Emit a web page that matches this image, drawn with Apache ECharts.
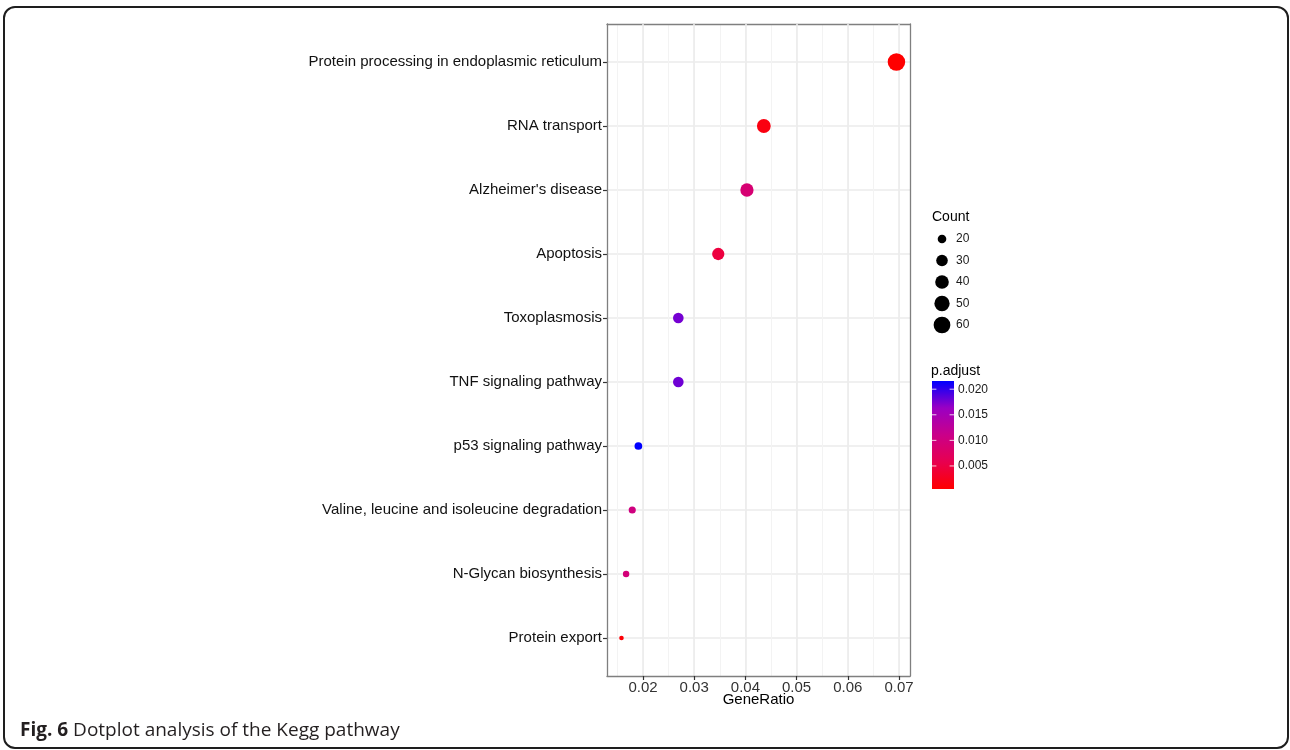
<!DOCTYPE html>
<html>
<head>
<meta charset="utf-8">
<script src="https://cdn.jsdelivr.net/npm/echarts@6/dist/echarts.min.js"></script>
<style>
  html, body { margin: 0; padding: 0; background: #ffffff; }
  #chart { width: 1290px; height: 750px; }
</style>
</head>
<body>
<div id="chart"></div>
<script>
// ---- data (top row first) ----
const pathways = [
  "Protein processing in endoplasmic reticulum",
  "RNA transport",
  "Alzheimer's disease",
  "Apoptosis",
  "Toxoplasmosis",
  "TNF signaling pathway",
  "p53 signaling pathway",
  "Valine, leucine and isoleucine degradation",
  "N-Glycan biosynthesis",
  "Protein export"
];
const geneRatio = [0.0695, 0.0436, 0.0403, 0.0347, 0.0269, 0.0269, 0.0191, 0.0179, 0.0167, 0.0158];
const counts    = [66, 41, 38, 33, 26, 26, 18, 17, 16, 15];
const pAdjust   = [0.0005, 0.0016, 0.0090, 0.0047, 0.0176, 0.0178, 0.0216, 0.0101, 0.0095, 0.0009];

const xTicks      = [0.02, 0.03, 0.04, 0.05, 0.06, 0.07];
const countBreaks = [20, 30, 40, 50, 60];
const padjBreaks  = [0.005, 0.010, 0.015, 0.020];
const colorStops  = ['#ff0000', '#e8004f', '#ca0089', '#9a00c3', '#0000ff'];

// ---- scales ----
const X_MIN = 0.01297, X_MAX = 0.07215;
const cMin = Math.min(...counts), cMax = Math.max(...counts);
const D_MIN = 4.6, D_MAX = 17.5;
function sizeOf(c) {
  const t = Math.max(0, (c - cMin) / (cMax - cMin));
  return D_MIN + (D_MAX - D_MIN) * Math.sqrt(t);
}
const pMin = Math.min(...pAdjust), pMax = Math.max(...pAdjust);

const seriesData = pathways.map((p, i) => [geneRatio[i], p, counts[i], pAdjust[i]]);

// ---- legend geometry ----
const FONT = '"Liberation Sans", Arial, Helvetica, sans-serif';
const legX = 942, legY0 = 239, legStep = 21.5;
const barX = 932, barTop = 381, barH = 108, barW = 22;

const graphics = [];
// outer frame
graphics.push({
  type: 'rect', silent: true,
  shape: { x: 4, y: 7, width: 1284, height: 741, r: 11 },
  style: { fill: 'none', stroke: '#1e1e1e', lineWidth: 2 }
});
// caption
graphics.push({
  type: 'text', silent: true,
  style: {
    x: 20, y: 731, verticalAlign: 'middle',
    text: '{b|Fig. 6} Dotplot analysis of the Kegg pathway',
    font: '19px "Open Sans", sans-serif', fill: '#231f20',
    rich: { b: { fontWeight: 'bold', fontSize: 19, fontFamily: '"Open Sans", sans-serif', fill: '#231f20' } }
  }
});
// Count legend
graphics.push({
  type: 'text', silent: true,
  style: { x: 932, y: 217, verticalAlign: 'middle', text: 'Count', font: '14px ' + FONT, fill: '#000' }
});
countBreaks.forEach((c, i) => {
  const y = legY0 + i * legStep;
  graphics.push({ type: 'circle', silent: true, shape: { cx: legX, cy: y, r: sizeOf(c) / 2 }, style: { fill: '#000' } });
  graphics.push({ type: 'text', silent: true, style: { x: 956, y: y, verticalAlign: 'middle', text: String(c), font: '12px ' + FONT, fill: '#1a1a1a' } });
});
// p.adjust colorbar
graphics.push({
  type: 'text', silent: true,
  style: { x: 931, y: 371, verticalAlign: 'middle', text: 'p.adjust', font: '14px ' + FONT, fill: '#000' }
});
graphics.push({
  type: 'rect', silent: true,
  shape: { x: barX, y: barTop, width: barW, height: barH },
  style: {
    fill: {
      type: 'linear', x: 0, y: 1, x2: 0, y2: 0,
      colorStops: colorStops.map((c, i) => ({ offset: i / (colorStops.length - 1), color: c }))
    }
  }
});
padjBreaks.forEach(v => {
  const y = barTop + barH - (v - pMin) / (pMax - pMin) * barH;
  graphics.push({ type: 'line', silent: true, shape: { x1: barX, y1: y, x2: barX + 4.4, y2: y }, style: { stroke: '#ffffff', lineWidth: 1, opacity: 0.8 } });
  graphics.push({ type: 'line', silent: true, shape: { x1: barX + barW - 4.4, y1: y, x2: barX + barW, y2: y }, style: { stroke: '#ffffff', lineWidth: 1, opacity: 0.8 } });
  graphics.push({ type: 'text', silent: true, style: { x: 958, y: y, verticalAlign: 'middle', text: v.toFixed(3), font: '12px ' + FONT, fill: '#1a1a1a' } });
});

const BORDER = '#7f7f7f';
const option = {
  backgroundColor: '#ffffff',
  animation: false,
  grid: [
    { left: 607, top: 24, width: 303, height: 652, containLabel: false },
    { left: 607, top: 62, width: 303, height: 576, containLabel: false }
  ],
  xAxis: [
    {
      gridIndex: 0, type: 'value', min: X_MIN, max: X_MAX, splitNumber: 6, position: 'bottom', z: 2,
      axisLine: { show: true, onZero: false, lineStyle: { color: BORDER, width: 1.3 } },
      axisTick: { show: true, length: 4, customValues: xTicks, lineStyle: { color: '#333', width: 1.2 } },
      axisLabel: { show: true, customValues: xTicks, margin: 4,
        fontSize: 15, fontFamily: FONT, color: '#333', formatter: v => String(+(+v).toFixed(2)) },
      splitLine: { show: true, lineStyle: { color: '#ebebeb', width: 1.6 } },
      name: 'GeneRatio', nameLocation: 'middle', nameGap: 16, nameMoveOverlap: false,
      nameTextStyle: { fontSize: 15, fontFamily: FONT, color: '#000' }
    },
    {
      gridIndex: 0, type: 'value', min: X_MIN, max: X_MAX, splitNumber: 12, position: 'top', z: 1,
      axisLine: { show: true, onZero: false, lineStyle: { color: BORDER, width: 1.3 } },
      axisTick: { show: false }, axisLabel: { show: false },
      splitLine: { show: true, lineStyle: { color: '#f3f3f3', width: 1 } }
    },
    {
      gridIndex: 1, type: 'value', min: X_MIN, max: X_MAX, show: false
    }
  ],
  yAxis: [
    {
      gridIndex: 0, type: 'value', min: 0, max: 1, position: 'left', z: 3,
      axisLine: { show: true, onZero: false, lineStyle: { color: BORDER, width: 1.3 } },
      axisTick: { show: false }, axisLabel: { show: false }, splitLine: { show: false }
    },
    {
      gridIndex: 0, type: 'value', min: 0, max: 1, position: 'right', z: 3,
      axisLine: { show: true, onZero: false, lineStyle: { color: BORDER, width: 1.3 } },
      axisTick: { show: false }, axisLabel: { show: false }, splitLine: { show: false }
    },
    {
      gridIndex: 1, type: 'category', data: pathways, inverse: true, boundaryGap: false, z: 1,
      axisLine: { show: false, onZero: false },
      axisTick: { show: true, length: 4, alignWithLabel: true, lineStyle: { color: '#333', width: 1.2 } },
      axisLabel: { show: true, interval: 0, margin: 5, fontSize: 15, fontFamily: FONT, color: '#111' },
      splitLine: { show: true, interval: 0, lineStyle: { color: '#ebebeb', width: 1.6 } }
    }
  ],
  visualMap: {
    show: false, type: 'continuous', dimension: 3, min: pMin, max: pMax, seriesIndex: 0,
    inRange: { color: colorStops }
  },
  series: [{
    type: 'scatter', xAxisIndex: 2, yAxisIndex: 2, z: 5,
    data: seriesData,
    symbolSize: d => sizeOf(d[2]),
    itemStyle: { opacity: 1 }
  }],
  graphic: graphics
};

const chart = echarts.init(document.getElementById('chart'), null, { renderer: 'canvas' });
chart.setOption(option);
</script>
</body>
</html>
